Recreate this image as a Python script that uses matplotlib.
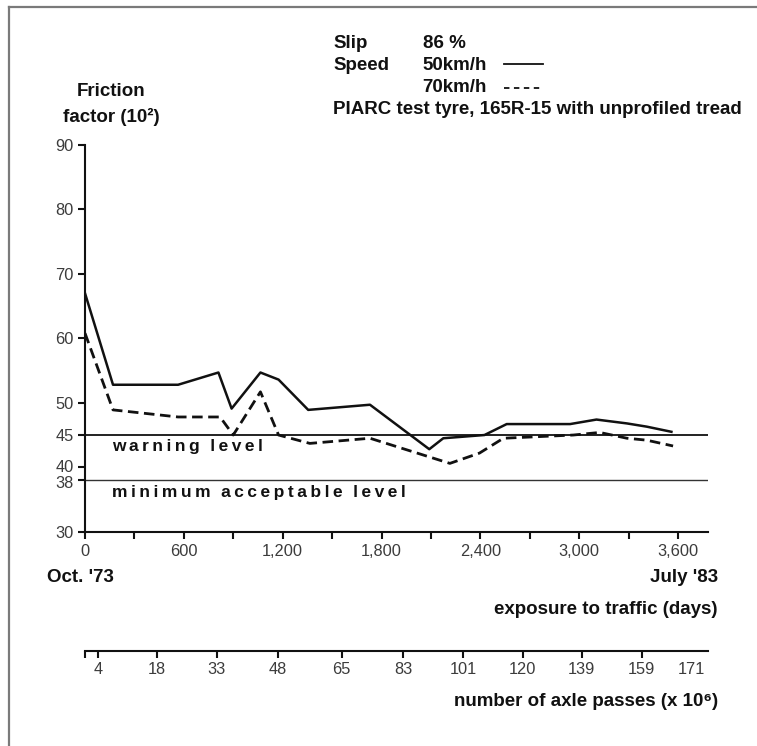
import matplotlib
matplotlib.use('Agg')
import matplotlib.pyplot as plt
import matplotlib.ticker as ticker
import matplotlib.transforms as mtransforms
from matplotlib.lines import Line2D

# data
days_50 = [0, 170, 565, 810, 890, 1065, 1175, 1355, 1730, 2090, 2175, 2425, 2560, 2945, 3105, 3290, 3410, 3560]
friction_50 = [67.0, 52.8, 52.8, 54.7, 49.1, 54.7, 53.6, 48.9, 49.7, 42.8, 44.5, 45.0, 46.7, 46.7, 47.4, 46.8, 46.3, 45.5]

days_70 = [0, 170, 565, 820, 900, 1065, 1175, 1365, 1730, 2215, 2395, 2540, 2965, 3125, 3290, 3410, 3570]
friction_70 = [60.8, 48.9, 47.8, 47.8, 45.0, 51.7, 45.0, 43.7, 44.5, 40.6, 42.2, 44.5, 45.0, 45.4, 44.5, 44.2, 43.3]

warning_level = 45
minimum_level = 38

y_ticks = [30, 38, 40, 45, 50, 60, 70, 80, 90]
day_ticks = [0, 600, 1200, 1800, 2400, 3000, 3600]
day_labels = ['0', '600', '1,200', '1,800', '2,400', '3,000', '3,600']

axle_tick_days = [81, 435, 800, 1170, 1558, 1932, 2297, 2657, 3015, 3380, 3683]
axle_labels = ['4', '18', '33', '48', '65', '83', '101', '120', '139', '159', '171']

# style
plt.rcParams['font.family'] = ['Liberation Sans', 'DejaVu Sans']
W, H = 757, 746
tam = 11.8     # tick labels
tamb = 13.5    # bold texts
ink = '#111111'
grey = '#3c3c3c'
gro = 1.5


def fx(px):
    return px / W


def fy(py):
    return 1 - py / H


def spaced(text):
    # wide letter spacing as in the scanned original
    return '\u2009\u2009\u2009'.join('\u2009'.join(word) for word in text.split())


fig = plt.figure(figsize=(W / 100, H / 100), dpi=100)

# main axes
l, r = fx(85), fx(708)
ax = fig.add_axes([l, fy(531.7), r - l, fy(145) - fy(531.7)])

ax.plot(days_50, friction_50, color=ink, linewidth=1.8, linestyle='solid')
ax.plot(days_70, friction_70, color=ink, linewidth=2.0, linestyle=(0, (3.8, 2.0)))

ax.axhline(warning_level, color=ink, linewidth=1.3)
ax.axhline(minimum_level, color='#333333', linewidth=1.0)

ax.text(162, 43.2, spaced('warning level'), fontsize=12.5, fontweight='bold',
        color=ink, ha='left', va='center')
ax.text(162, 36.05, spaced('minimum acceptable level'), fontsize=12.5, fontweight='bold',
        color=ink, ha='left', va='center')

ax.set_xlim(0, 3782)
ax.set_ylim(30, 90)
ax.set_yticks(y_ticks)
ax.set_xticks(day_ticks, day_labels)
ax.xaxis.set_minor_locator(ticker.MultipleLocator(300))

for side in ['top', 'right']:
    ax.spines[side].set_visible(False)
for side in ['left', 'bottom']:
    ax.spines[side].set_linewidth(gro)
    ax.spines[side].set_color(ink)

ax.tick_params(which='both', direction='out', length=5, width=gro, color=ink,
               labelsize=tam, labelcolor=grey)
ax.tick_params(axis='y', pad=3)
ax.tick_params(axis='x', pad=4)

# the 38 and 40 labels sit very close, nudge them apart a little
ylabels = ax.get_yticklabels()
ylabels[1].set_transform(ylabels[1].get_transform() +
                         mtransforms.ScaledTranslation(0, -2 / 100, fig.dpi_scale_trans))
ylabels[2].set_transform(ylabels[2].get_transform() +
                         mtransforms.ScaledTranslation(0, 1.5 / 100, fig.dpi_scale_trans))

# second scale: axle passes
ax2 = fig.add_axes([l, fy(651), r - l, 0.0001])
ax2.set_xlim(ax.get_xlim())
ax2.set_yticks([])
for side in ['top', 'left', 'right']:
    ax2.spines[side].set_visible(False)
ax2.spines['bottom'].set_linewidth(gro)
ax2.spines['bottom'].set_color(ink)
ax2.set_xticks(axle_tick_days, axle_labels)
ax2.set_xticks([0], minor=True)
ax2.tick_params(which='both', direction='out', length=5, width=gro, color=ink,
                labelsize=tam, labelcolor=grey, pad=3)
ax2.xaxis.get_major_ticks()[-1].tick1line.set_visible(False)
ax2.patch.set_visible(False)

# texts around the chart
fig.text(fx(111.5), fy(91.7), 'Friction', fontsize=tamb, fontweight='bold', color=ink,
         ha='center', va='center')
fig.text(fx(111), fy(116.7), 'factor (10²)', fontsize=tamb, fontweight='bold', color=ink,
         ha='center', va='center')

fig.text(fx(333), fy(44), 'Slip', fontsize=tamb, fontweight='bold', color=ink, va='center')
fig.text(fx(422.7), fy(44), '86 %', fontsize=tamb, fontweight='bold', color=ink, va='center')
fig.text(fx(333), fy(65.7), 'Speed', fontsize=tamb, fontweight='bold', color=ink, va='center')
fig.text(fx(422.7), fy(65.7), '50km/h', fontsize=tamb, fontweight='bold', color=ink, va='center')
fig.text(fx(422.7), fy(88), '70km/h', fontsize=tamb, fontweight='bold', color=ink, va='center')
fig.text(fx(333), fy(110), 'PIARC test tyre, 165R-15 with unprofiled tread', fontsize=tamb,
         fontweight='bold', color=ink, va='center')

fig.add_artist(Line2D([fx(504), fx(543)], [fy(64), fy(64)], color=ink, linewidth=1.3))
fig.add_artist(Line2D([fx(504), fx(543)], [fy(88), fy(88)], color=ink, linewidth=1.3,
                      linestyle=(0, (3, 2.5))))

fig.text(fx(80), fy(577), "Oct. '73", fontsize=tamb, fontweight='bold', color=ink,
         ha='center', va='center')
fig.text(fx(718), fy(577), "July '83", fontsize=tamb, fontweight='bold', color=ink,
         ha='right', va='center')
fig.text(fx(718), fy(610), 'exposure to traffic (days)', fontsize=tamb, fontweight='bold',
         color=ink, ha='right', va='center')
fig.text(fx(718), fy(702), 'number of axle passes (x 10\u2076)', fontsize=tamb,
         fontweight='bold', color=ink, ha='right', va='center')

# scan frame (top and left edges)
fig.add_artist(Line2D([fx(9), 1], [fy(7), fy(7)], color='#7a7a7a', linewidth=1.6))
fig.add_artist(Line2D([fx(9), fx(9)], [fy(7), 0], color='#7a7a7a', linewidth=1.6))

plt.savefig('out.png', dpi=100)
